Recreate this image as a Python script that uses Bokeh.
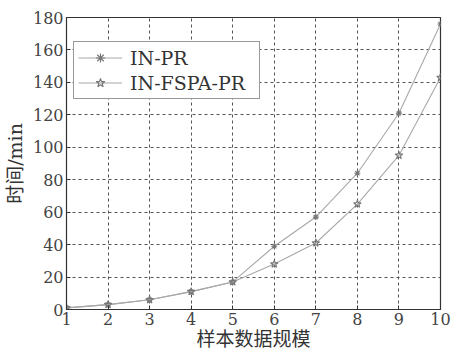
from bokeh.plotting import figure
from bokeh.models import Legend, LegendItem, FixedTicker
from bokeh.embed import file_html
from bokeh.resources import INLINE

sizes = [1, 2, 3, 4, 5, 6, 7, 8, 9, 10]
in_pr = [1, 3, 6, 11, 17, 39, 57, 84, 121, 176]
in_fspa_pr = [1, 3, 6, 11, 17, 28, 41, 65, 95, 143]
x_ticks = [1, 2, 3, 4, 5, 6, 7, 8, 9, 10]
y_ticks = [0, 20, 40, 60, 80, 100, 120, 140, 160, 180]

SERIF = "'DejaVu Serif', 'Noto Sans CJK SC'"

p = figure(width=453, height=352, output_backend="svg", toolbar_location=None,
           x_range=(1, 10), y_range=(0, 180),
           min_border_left=65, min_border_right=13, min_border_top=17, min_border_bottom=38)
p.background_fill_color = "white"
p.border_fill_color = "white"
p.outline_line_color = "#333333"
p.outline_line_width = 1.2

for ax, ticks in ((p.xaxis[0], x_ticks), (p.yaxis[0], y_ticks)):
    ax.ticker = FixedTicker(ticks=ticks)
    ax.major_tick_in = 4
    ax.major_tick_out = 0
    ax.minor_tick_line_color = None
    ax.axis_line_color = "#333333"
    ax.major_tick_line_color = "#333333"
    ax.major_label_text_font = "DejaVu Serif"
    ax.major_label_text_font_size = "16px"
    ax.major_label_text_color = "#444444"
    ax.axis_label_text_font = SERIF
    ax.axis_label_text_font_style = "normal"
    ax.axis_label_text_font_size = "19px"
    ax.axis_label_text_color = "#333333"

p.xaxis.axis_label = "样本数据规模"
p.yaxis.axis_label = "时间/min"
p.xaxis.major_label_standoff = 3
p.xaxis.axis_label_standoff = 0
p.yaxis.major_label_standoff = 3
p.yaxis.axis_label_standoff = 4

p.grid.grid_line_color = "#555555"
p.grid.grid_line_dash = "3 3"
p.grid.grid_line_width = 1
p.xgrid.ticker = FixedTicker(ticks=x_ticks)
p.ygrid.ticker = FixedTicker(ticks=y_ticks)

l1 = p.line(sizes, in_pr, line_color="#a8a8a8", line_width=1.1)
m1 = p.scatter(sizes, in_pr, marker="asterisk", size=6, line_color="#777777", line_width=1.2)
l2 = p.line(sizes, in_fspa_pr, line_color="#a8a8a8", line_width=1.1)
m2 = p.scatter(sizes, in_fspa_pr, marker="star", size=8, line_color="#777777",
               fill_color=None, line_width=1.1)

legend = Legend(items=[LegendItem(label="IN-PR", renderers=[l1, m1]),
                       LegendItem(label="IN-FSPA-PR", renderers=[l2, m2])],
                location=(7, 210))
legend.label_text_font = "DejaVu Serif"
legend.label_text_font_size = "19px"
legend.label_text_color = "#333333"
legend.glyph_width = 44
legend.glyph_height = 23
legend.label_height = 23
legend.label_width = 125
legend.label_standoff = 8
legend.spacing = 2
legend.padding = 4
legend.margin = 0
legend.border_line_color = "#333333"
legend.border_line_width = 1
legend.background_fill_color = "white"
legend.background_fill_alpha = 1
p.add_layout(legend, "center")

open("out.html", "w").write(file_html(p, INLINE))
